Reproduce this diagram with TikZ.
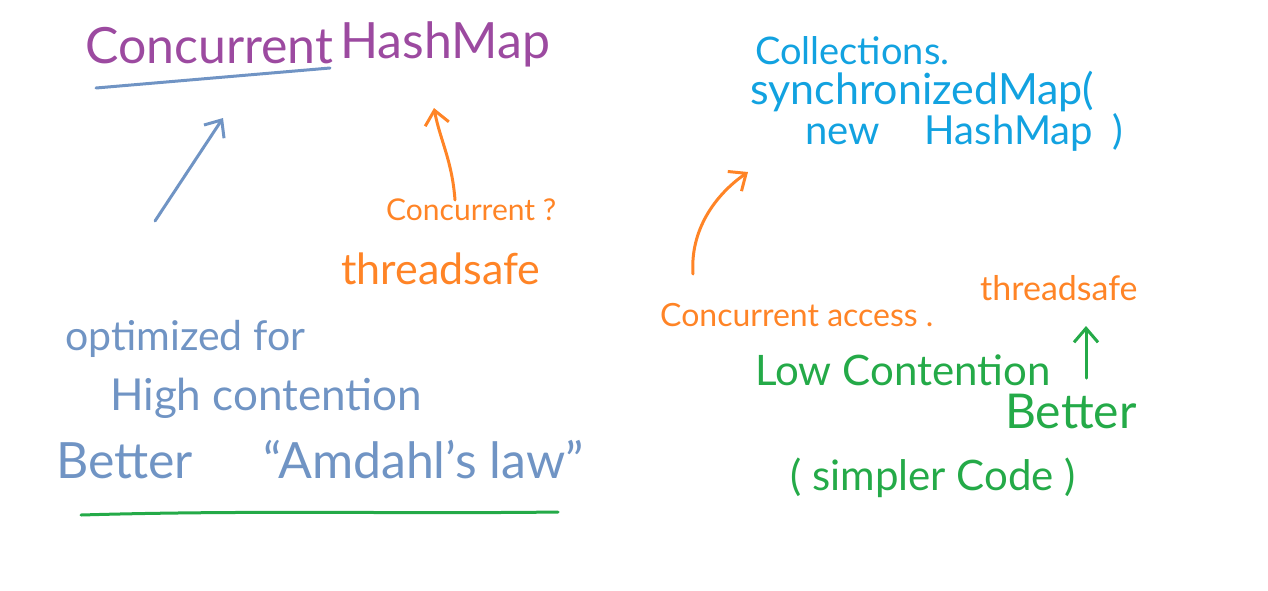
\documentclass[tikz,border=0pt]{standalone}
\usepackage{fontspec}
\setmainfont{Lato}
\usetikzlibrary{arrows.meta}
\definecolor{cpurple}{HTML}{9C4AA0}
\definecolor{cgray}{HTML}{7094C4}
\definecolor{corange}{HTML}{FF8426}
\definecolor{cblue}{HTML}{12A2E0}
\definecolor{cgreen}{HTML}{24AA48}
\tikzset{
  hw/.style={inner sep=0pt, anchor=base west, font=\fontsize{#1}{#1}\selectfont},
  stroke/.style={line width=3pt, line cap=round, line join=round},
  arr/.style={stroke, -{Straight Barb[length=14pt,width=24pt,line width=3pt]}},
}
\begin{document}
\begin{tikzpicture}[x=1pt,y=-1pt]
\useasboundingbox (0,0) rectangle (1268,590);
% left title
\node[hw=50, text=cpurple] (conc) at (85,63) {Concurrent};
\node[hw=50, text=cpurple] (hmap) at (340,58) {HashMap};
\coordinate (ul1) at (96,88);
\coordinate (ul2) at (330,68);
\draw[stroke, cgray] (ul1) -- (ul2);
% left arrows
\coordinate (ga1) at (155,221);
\coordinate (ga2) at (223,118);
\draw[arr, cgray] (ga1) -- (ga2);
\coordinate (oa1) at (455,200);
\coordinate (oa2) at (434,108);
\draw[arr, corange] (oa1) .. controls (452,160) and (440,140) .. (oa2);
% orange labels left
\node[hw=30, text=corange] (cq) at (386,220) {Concurrent ?};
\node[hw=43, text=corange] (ts1) at (341,284) {threadsafe};
% blue-gray text
\node[hw=41, text=cgray] (opt) at (65,350) {optimized for};
\node[hw=44, text=cgray] (high) at (110,410) {High contention};
\node[hw=50, text=cgray] (better) at (56,478) {Better\hspace{70pt}``Amdahl's law''};
\coordinate (gl1) at (81,515);
\coordinate (gl2) at (558,512);
\draw[stroke, cgreen] (gl1) .. controls (250,510) and (400,514) .. (gl2);
% right blue
\node[hw=38, text=cblue] (coll) at (755,64) {Collections.};
\node[hw=43, text=cblue] (sync) at (750,104) {synchronizedMap(};
\node[hw=40, text=cblue] (newh) at (805,144) {new\hspace{45pt}HashMap\hspace{20pt})};
% right orange arrow
\coordinate (ra1) at (693,274);
\coordinate (ra2) at (748,172);
\draw[arr, corange] (ra1) .. controls (690,230) and (715,195) .. (ra2);
\node[hw=32, text=corange] (ca) at (660,326) {Concurrent access .};
\node[hw=34, text=corange] (ts2) at (980,300) {threadsafe};
% green
\node[hw=42, text=cgreen] (low) at (755,385) {Low Contention};
\coordinate (ua1) at (1086,378);
\coordinate (ua2) at (1086,326);
\draw[arr, cgreen] (ua1) -- (ua2);
\node[hw=48, text=cgreen] (bet2) at (1005,428) {Better};
\node[hw=42, text=cgreen] (simp) at (790,490) {( simpler Code )};
\end{tikzpicture}
\end{document}
